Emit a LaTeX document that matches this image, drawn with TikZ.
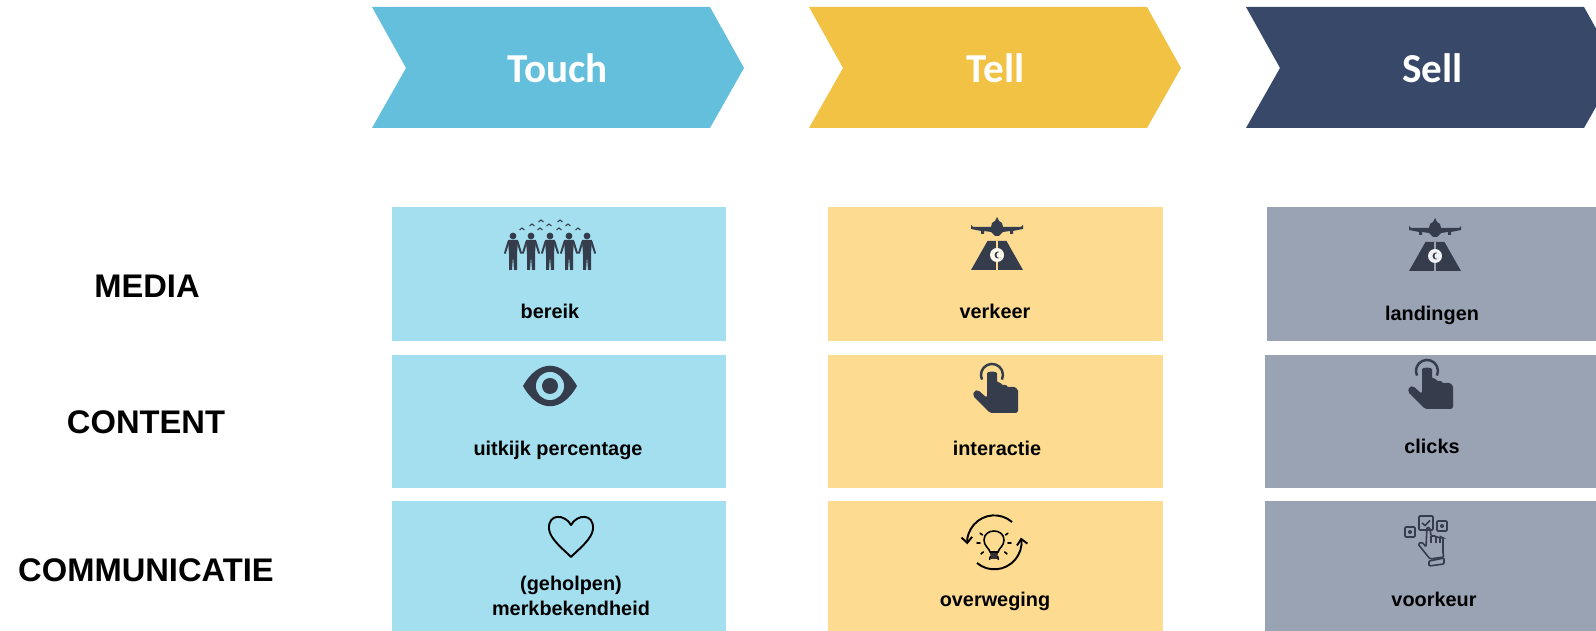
\documentclass[tikz,border=0pt]{standalone}
\usepackage{fontspec}
\setmainfont{Liberation Sans}
\newfontfamily\headfont{Carlito}
\usepackage{tikz}
\usetikzlibrary{arrows.meta}
\definecolor{chevblue}{HTML}{64BFDD}
\definecolor{chevyellow}{HTML}{F2C245}
\definecolor{chevnavy}{HTML}{374869}
\definecolor{tileblue}{HTML}{A4DFEF}
\definecolor{tileyellow}{HTML}{FDDB91}
\definecolor{tilegrey}{HTML}{9AA3B4}
\definecolor{icondark}{HTML}{353D4D}
\tikzset{
  tile/.style={inner sep=0pt,outer sep=0pt,anchor=north west},
  header/.style={font=\headfont\bfseries\fontsize{11.7}{14}\selectfont,text=white,inner sep=0pt},
  rowlabel/.style={font=\bfseries\fontsize{9.3}{11}\selectfont,inner sep=0pt},
  tilelabel/.style={font=\bfseries\fontsize{5.65}{6.9}\selectfont,inner sep=0pt,align=center},
  person/.pic={
    \fill[icondark] (0,0) circle[radius=0.034cm];
    \fill[icondark] (-5,4) -- (5,4) -- (4,18) -- (4,34) -- (1,34) -- (0,20) -- (-1,34) -- (-4,34) -- (-4,18) -- cycle;
    \draw[icondark,line width=0.55pt,line cap=round] (-4.5,5.5) -- (-8,17) (4.5,5.5) -- (8,17);
  },
  eye/.pic={
    \fill[icondark] (-27,0) .. controls (-12,-27) and (12,-27) .. (27,0) .. controls (12,27) and (-12,27) .. (-27,0) -- cycle;
    \fill[tileblue] (0,0) circle[radius=0.14cm];
    \fill[icondark] (0,0) circle[radius=0.08cm];
  },
  heart/.pic={
    \draw[black,line width=0.55pt,line join=round] (0,8) .. controls (-6,-3) and (-23,-4) .. (-22,12) .. controls (-21,22) and (-8,32) .. (0,40) .. controls (8,32) and (21,22) .. (22,12) .. controls (23,-4) and (6,-3) .. (0,8) -- cycle;
  },
  pics/runway/.style={code={
    \fill[icondark] (-26,-3) -- (-24,-1) -- (-6,-1) -- (-5,-5) -- (-2,-7) -- (0,-11) -- (2,-7) -- (5,-5) -- (6,-1) -- (24,-1) -- (26,-3) -- (26,1) -- (16,3) -- (16,6) -- (13,6) -- (13,3) -- (6,4) -- (2,8) -- (-2,8) -- (-6,4) -- (-13,3) -- (-13,6) -- (-16,6) -- (-16,3) -- (-26,1) -- cycle;
    \fill[icondark] (-9.5,13) -- (9.5,13) -- (26,42) -- (-26,42) -- cycle;
    \fill[#1] (-0.7,13) rectangle (0.7,42);
    \fill[white!85!#1] (0,27) circle[radius=0.07cm];
    \fill[icondark] (1,27) circle[radius=0.035cm];
    \fill[white!85!#1] (2.5,27) circle[radius=0.03cm];
  }},
  pointer/.pic={
    \draw[icondark,line width=0.7pt] (-10,7.6) arc[start angle=205,end angle=-25,radius=0.11cm];
    \fill[icondark,rounded corners=0.5pt] (-5,3) .. controls (-5,-1) and (5,-1) .. (5,3) -- (5,11) -- (9,10) -- (10,14) -- (14,12) -- (16,16) -- (20,14) -- (26,17) -- (26,41) -- (-2,41) -- (-19,24) -- (-18,19) -- (-14,18) -- (-5,26) -- cycle;
  },
  bulb/.pic={
    \draw[black,line width=0.45pt] (-4,9) .. controls (-5,5) and (-10,3) .. (-10,-3) .. controls (-10,-15) and (10,-15) .. (10,-3) .. controls (10,3) and (5,5) .. (4,9) -- cycle;
    \fill[black!80] (-4,10) -- (4,10) -- (3,16) -- (-3,16) -- cycle;
    \foreach \a in {0,40,75,105,140,180,215,325}
      \draw[black,line width=0.45pt,line cap=round] (\a:14) -- (\a:17);
    \draw[black,line width=0.55pt,-{Straight Barb[length=1.6pt,width=3pt]}] (18,-21) arc[start angle=49,end angle=184,radius=0.27cm];
    \draw[black,line width=0.55pt,-{Straight Barb[length=1.6pt,width=3pt]}] (-17,20) arc[start angle=230,end angle=370,radius=0.27cm];
  },
  choice/.pic={
    \draw[icondark,line width=0.45pt,rounded corners=0.3pt] (-7,-7) rectangle (7,7);
    \draw[icondark,line width=0.45pt] (-4,0) -- (-1,2.5) -- (4,-2.5);
    \draw[icondark,line width=0.45pt,rounded corners=0.3pt] (-21,4) rectangle (-11,14);
    \fill[icondark] (-16,9) circle[radius=0.02cm];
    \draw[icondark,line width=0.45pt,rounded corners=0.3pt] (11,-2) rectangle (21,8);
    \fill[icondark] (16,3) circle[radius=0.02cm];
    \draw[icondark,line width=0.45pt,rounded corners=0.4pt] (1,4) -- (4,5) -- (5,13) -- (10,13) -- (12,15) -- (15,14) -- (17,15) -- (17,31) -- (18,34) -- (4,36) -- (-8,21) -- (-4,19) -- (0,24) -- cycle;
    \draw[icondark,line width=0.35pt] (5,13) -- (5,20) (10,13) -- (10,20) (14,14) -- (14,20);
    \draw[icondark,line width=0.45pt,rounded corners=0.3pt] (3,38) -- (18,35) -- (18,41) -- (3,43) -- cycle;
  }
}
\begin{document}
\begin{tikzpicture}[x=0.01cm,y=-0.01cm]
\clip (0,0) rectangle (1596,631);
\foreach \x/\col/\nm/\txt/\shift in {372/chevblue/touch/Touch/185.5,809/chevyellow/tell/Tell/186.5,1246/chevnavy/sell/Sell/186.5}{
  \fill[\col] (\x,7) -- (\x+338,7) -- (\x+372,68) -- (\x+338,128) -- (\x,128) -- (\x+34,68) -- cycle;
  \node[header] (\nm) at (\x+\shift,68) {\txt};
}
\node[rowlabel] (media) at (147,286) {MEDIA};
\node[rowlabel] (content) at (146,422) {CONTENT};
\node[rowlabel] (communicatie) at (146,570) {COMMUNICATIE};
\node[tile,fill=tileblue,minimum width=3.34cm,minimum height=1.34cm] (touchmedia) at (392,207) {};
\node[tile,fill=tileblue,minimum width=3.34cm,minimum height=1.33cm] (touchcontent) at (392,355) {};
\node[tile,fill=tileblue,minimum width=3.34cm,minimum height=1.30cm] (touchcomm) at (392,501) {};
\node[tile,fill=tileyellow,minimum width=3.35cm,minimum height=1.34cm] (tellmedia) at (828,207) {};
\node[tile,fill=tileyellow,minimum width=3.35cm,minimum height=1.33cm] (tellcontent) at (828,355) {};
\node[tile,fill=tileyellow,minimum width=3.35cm,minimum height=1.30cm] (tellcomm) at (828,501) {};
\node[tile,fill=tilegrey,minimum width=3.29cm,minimum height=1.34cm] (sellmedia) at (1267,207) {};
\node[tile,fill=tilegrey,minimum width=3.31cm,minimum height=1.33cm] (sellcontent) at (1265,355) {};
\node[tile,fill=tilegrey,minimum width=3.31cm,minimum height=1.30cm] (sellcomm) at (1265,501) {};
\foreach \x in {513,531,550,569,587}
  \pic at (\x,236) {person};
\foreach \x/\y in {522/229,532/225,541/221,549/225,560/221,568/225,578/229,540/229,559/229}
  \draw[icondark,line width=0.3pt] (\x-2.5,\y+1) -- (\x,\y-1) -- (\x+2.5,\y+1);
\pic at (550,386) {eye};
\pic at (571,517) {heart};
\pic at (997,228) {runway=tileyellow};
\pic at (992,372) {pointer};
\pic at (994,543) {bulb};
\pic at (1435,229) {runway=tilegrey};
\pic at (1427,368) {pointer};
\pic at (1426,523) {choice};
\node[tilelabel] (bereik) at (550,311) {bereik};
\node[tilelabel] (uitkijk) at (558,450) {uitkijk percentage};
\node[tilelabel] (merk) at (571,596) {(geholpen)\\merkbekendheid};
\node[tilelabel] (verkeer) at (995,311) {verkeer};
\node[tilelabel] (interactie) at (997,448) {interactie};
\node[tilelabel] (overweging) at (995,601) {overweging};
\node[tilelabel] (landingen) at (1432,315) {landingen};
\node[tilelabel] (clicks) at (1432,446) {clicks};
\node[tilelabel] (voorkeur) at (1434,599) {voorkeur};
\end{tikzpicture}
\end{document}
